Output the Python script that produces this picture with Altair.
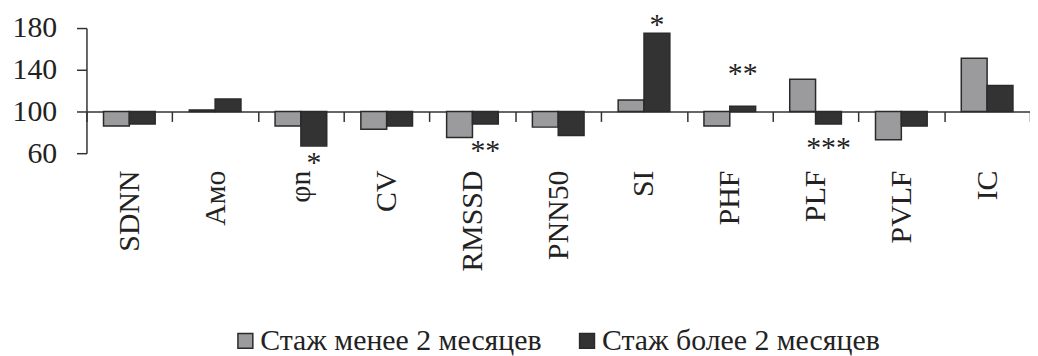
import altair as alt
import pandas as pd

categories = ["SDNN", "Амо", "φn", "CV", "RMSSD", "PNN50", "SI", "PHF", "PLF", "PVLF", "IC"]
series = ["Стаж менее 2 месяцев", "Стаж более 2 месяцев"]
less_2 = [86, 101.5, 86, 83, 75, 85, 111, 86, 131, 73, 151]
more_2 = [88, 112, 67, 86, 88, 77, 175, 105, 88, 86, 125]

star_cats = ["φn", "RMSSD", "SI", "PHF", "PLF"]
star_text = ["*", "**", "*", "**", "***"]
star_y = [50.5, 62, 183, 136, 65]

FONT = "Liberation Serif"

rows = []
for c, a, b in zip(categories, less_2, more_2):
    rows.append({"cat": c, "series": series[0], "value": a})
    rows.append({"cat": c, "series": series[1], "value": b})
df = pd.DataFrame(rows)

stars = pd.DataFrame({"cat": star_cats, "txt": star_text, "y": star_y,
                      "series": [series[1]] * len(star_cats)})

x_enc = alt.X("cat:N", sort=categories, title=None,
              scale=alt.Scale(paddingInner=0, paddingOuter=0),
              axis=alt.Axis(orient="bottom", offset=-42, tickBand="extent",
                            tickSize=10, labelPadding=49, labelAngle=270,
                            labelAlign="right", labelBaseline="middle",
                            labelFont=FONT, labelFontSize=30, labelColor="#222222",
                            domainColor="#333333", tickColor="#333333",
                            domainWidth=1.5, tickWidth=1.5, labelLimit=0))
xo_enc = alt.XOffset("series:N", sort=series,
                     scale=alt.Scale(paddingInner=0, paddingOuter=0.66))
y_scale = alt.Scale(domain=[60, 180], nice=False, zero=False)

bars = alt.Chart(df).mark_bar(stroke="#2a2a2a", strokeWidth=1.5).encode(
    x=x_enc,
    xOffset=xo_enc,
    y=alt.Y("value:Q", scale=y_scale, title=None,
            axis=alt.Axis(values=[60, 100, 140, 180], tickSize=10, labelPadding=20,
                          labelFont=FONT, labelFontSize=30, labelColor="#222222",
                          domainColor="#333333", tickColor="#333333",
                          domainWidth=1.5, tickWidth=1.5, grid=False)),
    y2=alt.datum(100),
    fill=alt.Fill("series:N", sort=series,
                  scale=alt.Scale(domain=series, range=["#9b9b9d", "#333333"]),
                  legend=alt.Legend(orient="none", legendX=145, legendY=300,
                                    direction="horizontal", title=None,
                                    symbolType="square", symbolSize=225,
                                    symbolStrokeColor="#2a2a2a", symbolStrokeWidth=1.5,
                                    labelFont=FONT, labelFontSize=30,
                                    labelColor="#222222", labelLimit=0,
                                    columnPadding=30, labelOffset=0)),
)

star_layer = alt.Chart(stars).mark_text(font=FONT, fontSize=30, baseline="middle",
                                        align="center", color="#222222").encode(
    x=alt.X("cat:N", sort=categories),
    xOffset=alt.XOffset("series:N", sort=series),
    y=alt.Y("y:Q", scale=y_scale),
    text="txt:N",
)

chart = alt.layer(bars, star_layer).properties(
    width=950, height=126,
    autosize=alt.AutoSizeParams(type="none"),
    padding={"left": 79, "top": 19, "right": 0, "bottom": 203},
).configure_view(stroke=None)

chart.save("out.html", embed_options={"renderer": "svg", "actions": False})
